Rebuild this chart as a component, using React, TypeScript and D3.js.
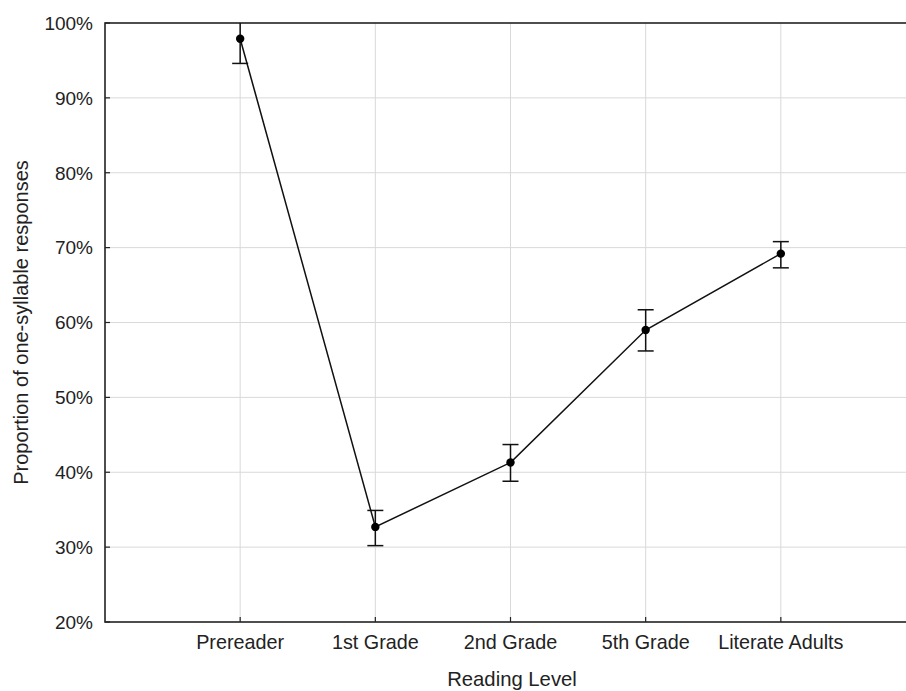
import React from "react";
import * as d3 from "d3";

const categories = ["Prereader", "1st Grade", "2nd Grade", "5th Grade", "Literate Adults"];
const means = [97.9, 32.7, 41.3, 59.0, 69.2];
const lower = [94.6, 30.2, 38.8, 56.2, 67.3];
const upper = [101.2, 34.9, 43.7, 61.7, 70.8];
const yTicks = [20, 30, 40, 50, 60, 70, 80, 90, 100];

const W = 906;
const H = 691;
const left = 105;
const right = 916;
const top = 23;
const bottom = 622;
const FONT = "'Liberation Sans', Arial, sans-serif";
const TXT = "#222";

export default function App() {
  const x = d3.scalePoint<string>().domain(categories).range([left, right]).padding(1);
  const y = d3.scaleLinear().domain([20, 100]).range([bottom, top]);
  const line = d3
    .line<number>()
    .x((_, i) => x(categories[i]) as number)
    .y((d) => y(d));
  const clampY = (v: number) => y(Math.max(20, Math.min(100, v)));

  return (
    <div style={{ position: "fixed", left: 0, top: 0 }}>
      <svg width={W} height={H} style={{ display: "block", background: "#fff" }}>
        {/* gridlines */}
        {yTicks.filter((t) => t > 20 && t < 100).map((t) => (
          <line key={"gy" + t} x1={left} x2={right} y1={y(t)} y2={y(t)} stroke="#d9d9d9" strokeWidth={1} />
        ))}
        {categories.map((c) => (
          <line key={"gx" + c} x1={x(c)} x2={x(c)} y1={top} y2={bottom} stroke="#d9d9d9" strokeWidth={1} />
        ))}
        {/* ticks (inward) */}
        {yTicks.map((t) => (
          <line key={"ty" + t} x1={left} x2={left + 5} y1={y(t)} y2={y(t)} stroke="#222" strokeWidth={1.2} />
        ))}
        {categories.map((c) => (
          <line key={"tx" + c} x1={x(c)} x2={x(c)} y1={bottom} y2={bottom - 5} stroke="#222" strokeWidth={1.2} />
        ))}
        {/* frame */}
        <rect x={left} y={top} width={right - left} height={bottom - top} fill="none" stroke="#222" strokeWidth={1.6} />
        {/* y tick labels */}
        {yTicks.map((t) => (
          <text key={"ly" + t} x={93} y={y(t)} dy="0.36em" textAnchor="end" fontFamily={FONT} fontSize={19} fill={TXT}>
            {t + "%"}
          </text>
        ))}
        {/* x tick labels */}
        {categories.map((c) => (
          <text key={"lx" + c} x={x(c)} y={649} textAnchor="middle" fontFamily={FONT} fontSize={19.8} fill={TXT}>
            {c}
          </text>
        ))}
        {/* axis titles */}
        <text x={512} y={686} textAnchor="middle" fontFamily={FONT} fontSize={20.3} fill={TXT}>
          Reading Level
        </text>
        <text
          transform={`translate(28,${(top + bottom) / 2}) rotate(-90)`}
          textAnchor="middle"
          fontFamily={FONT}
          fontSize={20}
          fill={TXT}
        >
          Proportion of one-syllable responses
        </text>
        {/* data line */}
        <path d={line(means) || ""} fill="none" stroke="#111" strokeWidth={1.5} />
        {/* error bars */}
        {categories.map((c, i) => {
          const cx = x(c) as number;
          const yl = clampY(lower[i]);
          const yu = clampY(upper[i]);
          return (
            <g key={"e" + c} stroke="#111" strokeWidth={1.5}>
              <line x1={cx} x2={cx} y1={yl} y2={yu} />
              {lower[i] >= 20 && lower[i] <= 100 && <line x1={cx - 8} x2={cx + 8} y1={yl} y2={yl} />}
              {upper[i] >= 20 && upper[i] <= 100 && <line x1={cx - 8} x2={cx + 8} y1={yu} y2={yu} />}
            </g>
          );
        })}
        {/* points */}
        {categories.map((c, i) => (
          <circle key={"p" + c} cx={x(c)} cy={y(means[i])} r={4.2} fill="#000" />
        ))}
      </svg>
    </div>
  );
}
